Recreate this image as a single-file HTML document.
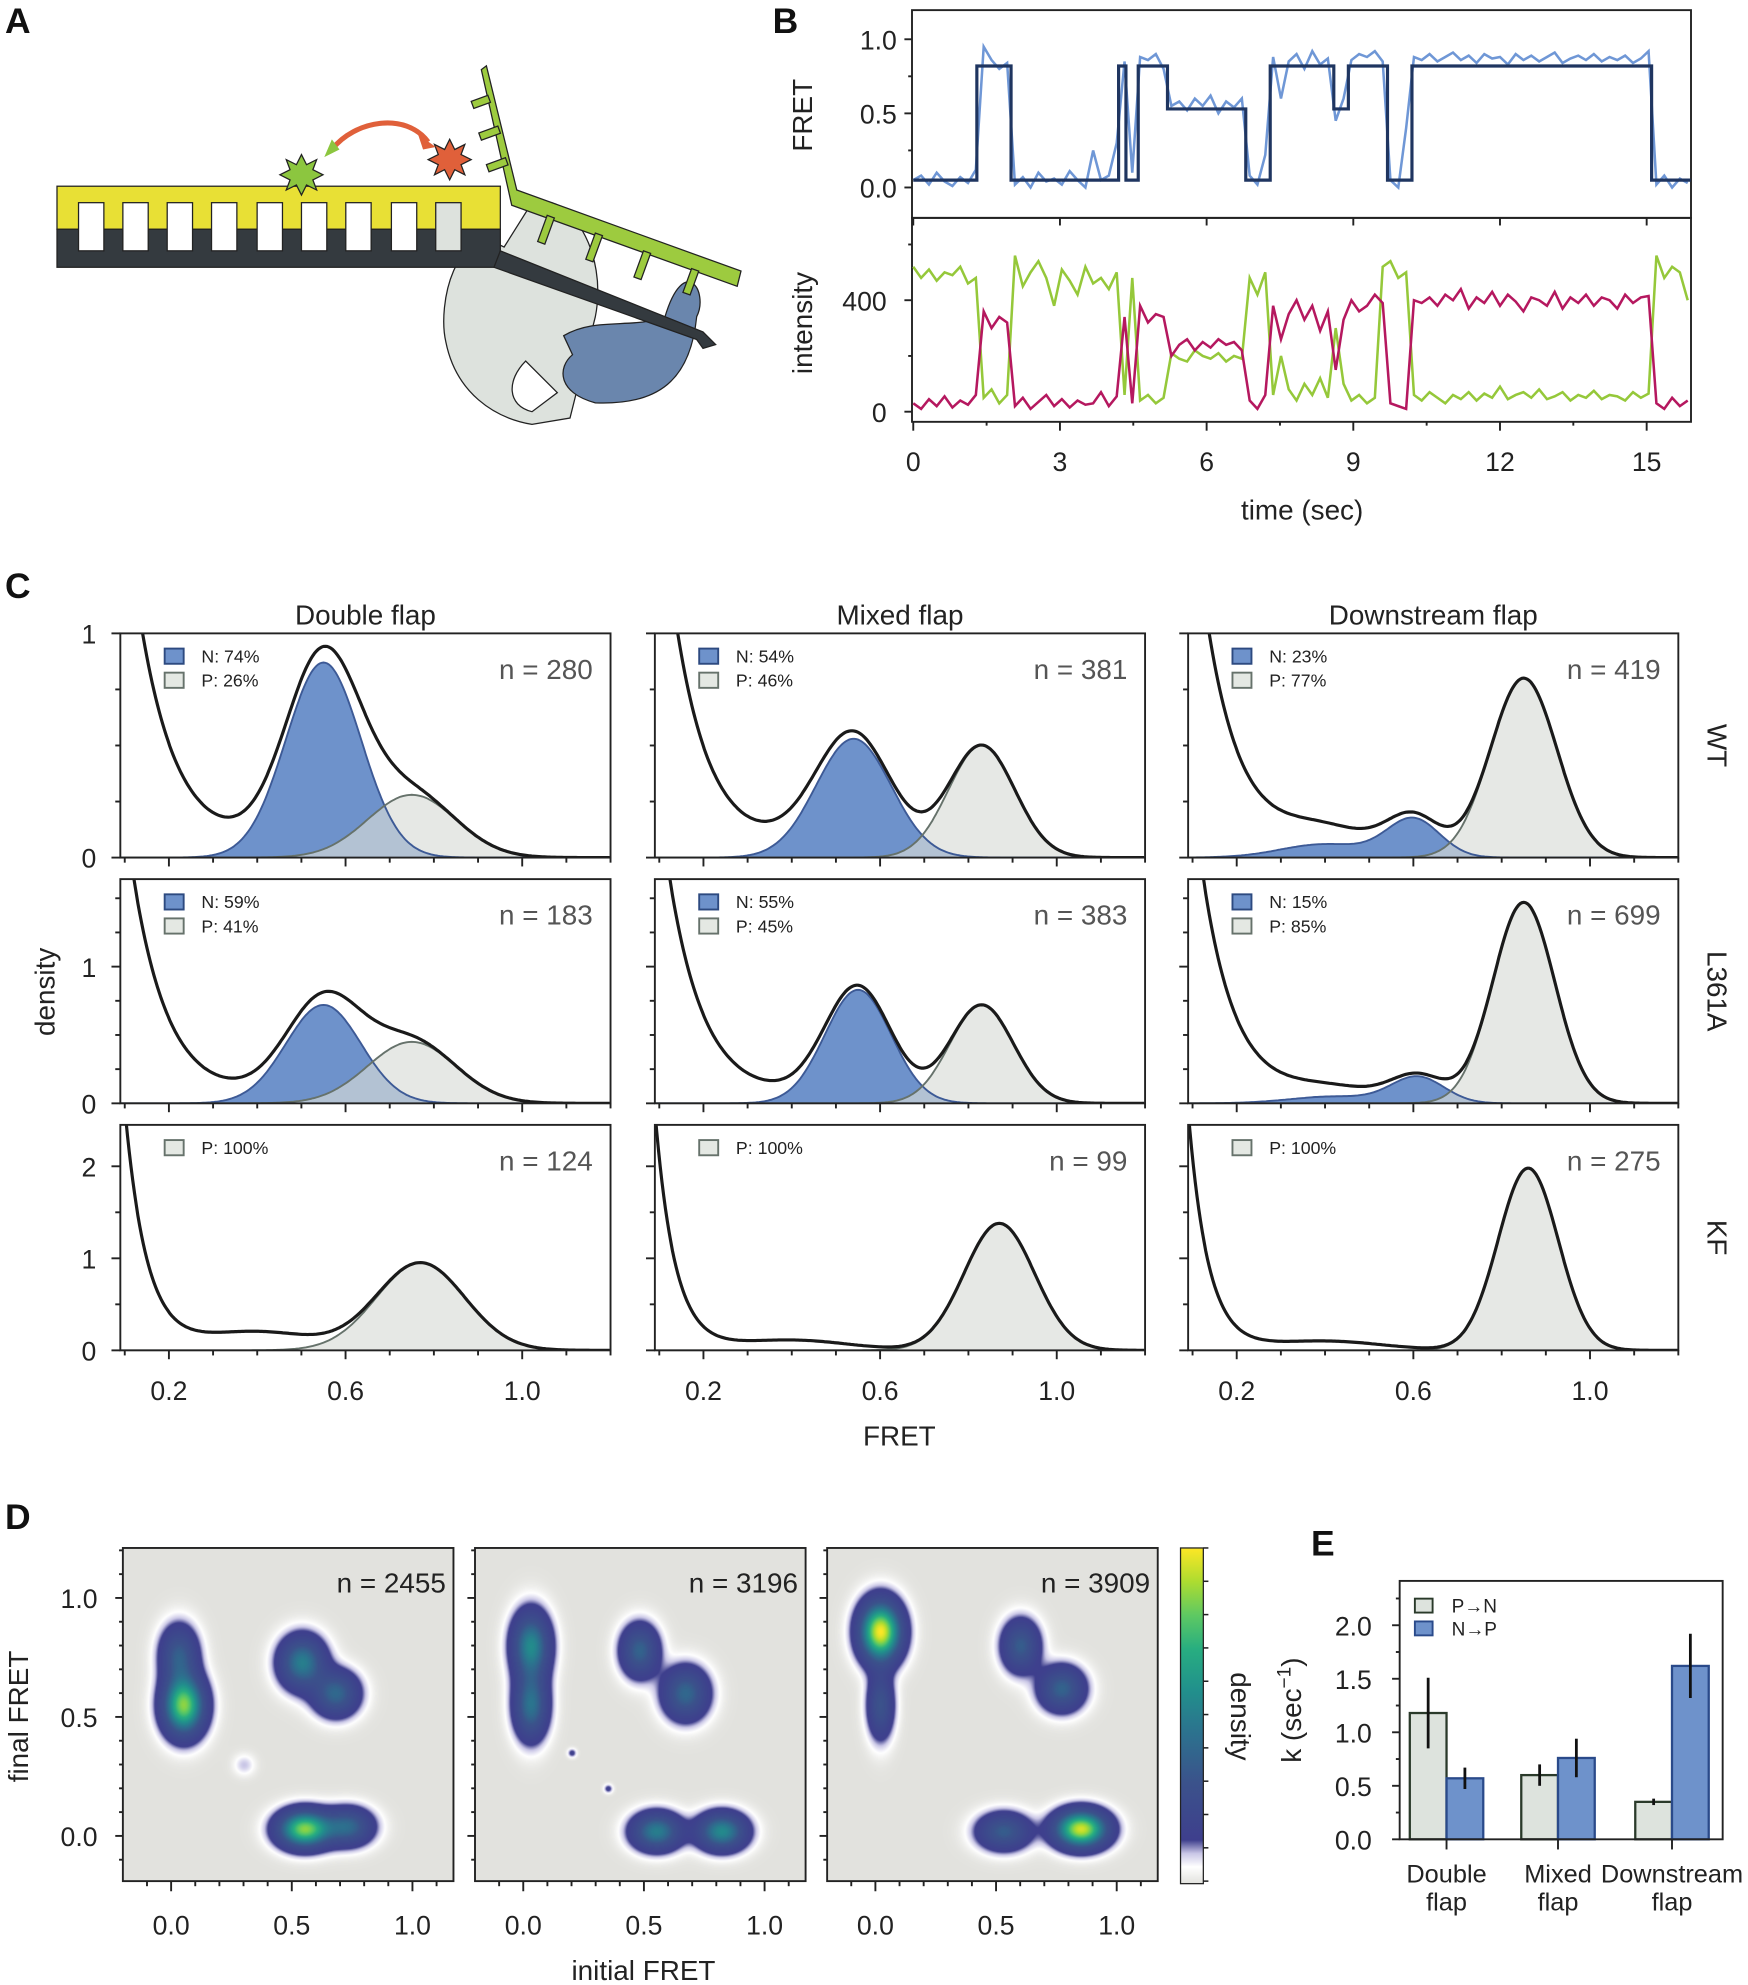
<!DOCTYPE html>
<html><head><meta charset="utf-8">
<style>
html,body{margin:0;padding:0;background:#fff;}
#wrap{position:relative;width:1748px;height:1985px;overflow:hidden;font-family:"Liberation Sans",sans-serif;}
#fig{position:absolute;left:0;top:0;}
canvas{position:absolute;}
text{font-family:"Liberation Sans",sans-serif;}
</style></head>
<body>
<div id="wrap">
<canvas id="hm0"></canvas>
<canvas id="hm1"></canvas>
<canvas id="hm2"></canvas>
<svg id="fig" width="1748" height="1985" viewBox="0 0 1380 1567" preserveAspectRatio="none">
<defs>
<linearGradient id="cbar" x1="0" y1="1" x2="0" y2="0">
<stop offset="0" stop-color="#e2e2de"/><stop offset="0.05" stop-color="#ffffff"/><stop offset="0.09" stop-color="#c9c6e6"/><stop offset="0.13" stop-color="#3e3f8d"/><stop offset="0.3" stop-color="#3b528b"/><stop offset="0.45" stop-color="#2c728e"/><stop offset="0.58" stop-color="#21918c"/><stop offset="0.7" stop-color="#28ae80"/><stop offset="0.8" stop-color="#5ec962"/><stop offset="0.9" stop-color="#addc30"/><stop offset="1" stop-color="#fde725"/>
</linearGradient>
</defs>
<g font-weight="bold" font-size="28" fill="#111">
<text x="4" y="26">A</text>
<text x="610" y="26">B</text>
<text x="4" y="472">C</text>
<text x="4" y="1207">D</text>
<text x="1035" y="1228">E</text>
</g>
<g id="cartoon" stroke="#222" stroke-width="1">
<path d="M398,195 C360,175 345,240 352,270 C360,310 390,330 420,335 L450,330 L470,250 C480,200 450,150 420,160 Z" fill="#dde2dd"/>
<path d="M415,285 C400,300 400,320 420,325 L440,310 Z" fill="#fff"/>
<path d="M445,265 C470,250 500,260 525,250 C540,200 560,230 550,250 C545,300 520,320 470,318 C440,310 440,290 452,280 Z" fill="#6a86ad"/>
<rect x="45" y="147" width="350" height="34" fill="#e8e035"/>
<rect x="45" y="181" width="350" height="30" fill="#343a3f"/>
<g fill="#fff">
<rect x="62" y="160" width="20" height="38"/><rect x="97" y="160" width="20" height="38"/><rect x="132" y="160" width="20" height="38"/><rect x="167" y="160" width="20" height="38"/><rect x="203" y="160" width="20" height="38"/><rect x="238" y="160" width="20" height="38"/><rect x="273" y="160" width="20" height="38"/><rect x="309" y="160" width="20" height="38"/><rect x="344" y="160" width="20" height="38" fill="#dde2dd"/>
</g>
<path d="M395,198 L555,262 L565,272 L555,275 L550,268 L390,211 Z" fill="#343a3f"/>
<path d="M380,55 L384,52 L408,150 L585,214 L582,226 L404,162 Z" fill="#9dcb3f"/>
<g fill="#9dcb3f"><rect x="372" y="80" width="14" height="6" transform="rotate(-20 372 80)"/><rect x="378" y="105" width="16" height="6" transform="rotate(-20 378 105)"/><rect x="384" y="130" width="16" height="6" transform="rotate(-20 384 130)"/><rect x="432" y="170" width="6" height="22" transform="rotate(20 432 170)"/><rect x="470" y="184" width="6" height="22" transform="rotate(20 470 184)"/><rect x="508" y="198" width="6" height="22" transform="rotate(20 508 198)"/><rect x="546" y="212" width="6" height="20" transform="rotate(20 546 212)"/></g>
<polygon points="238,122 242,130 250,126 247,134 255,138 247,142 250,150 242,146 238,154 234,146 226,150 229,142 221,138 229,134 226,126 234,130" fill="#8cc63f"/>
<polygon points="355,110 359,118 367,114 364,122 372,126 364,130 367,138 359,134 355,142 351,134 343,138 346,130 338,126 346,122 343,114 351,118" fill="#e0603a"/>
<path d="M262,118 C280,95 320,88 338,112" fill="none" stroke="#e0603a" stroke-width="4"/>
<polygon points="330,106 344,116 334,118" fill="#e0603a" stroke="none"/>
<polygon points="256,124 262,110 268,118" fill="#8cc63f" stroke="none"/>
</g>
<g id="gB"></g><g id="gC"></g><g id="gD"></g><g id="gE"></g>
</svg>
</div>
<script>
// ================= Panel B data =================
const traceDt = 0.16;
const fretRaw = [0.05,0.08,0.02,0.10,0.04,0.01,0.07,0.03,0.12,
0.95,0.86,0.80,0.84,
0.02,0.07,0.0,0.10,0.04,0.06,0.02,0.11,0.05,0.0,0.25,0.05,0.08,0.30,
0.85,0.10,
0.88,0.86,0.90,0.80,
0.55,0.58,0.52,0.60,0.55,0.62,0.50,0.58,0.54,0.60,
0.08,0.02,0.22,
0.88,0.60,0.85,0.90,0.80,0.92,0.83,0.87,
0.45,0.60,
0.86,0.90,0.88,0.92,0.85,
0.05,0.0,0.40,
0.88,0.86,0.90,0.85,0.88,0.91,0.86,0.89,0.84,0.90,0.87,0.88,0.83,0.90,0.86,0.89,0.85,0.88,0.91,0.84,0.87,0.89,0.86,0.90,0.85,0.88,0.86,0.89,0.84,0.87,0.92,
0.02,0.08,0.0,0.06,0.03];
const stepTimes = [0,1.3,2.0,4.2,4.35,4.6,5.2,6.8,7.3,8.6,8.9,9.7,10.2,15.1,15.9];
const stepLevels = [0.05,0.82,0.05,0.82,0.05,0.82,0.53,0.05,0.82,0.53,0.82,0.05,0.82,0.05];
const acceptorI = [30,10,45,20,55,15,40,25,60,
360,300,340,320,
20,50,10,35,60,20,45,15,40,25,30,70,20,55,
340,30,
380,320,350,340,
200,240,260,220,250,230,260,240,250,220,
40,10,60,
380,260,350,400,330,380,290,360,
150,330,
400,360,380,420,390,
30,20,10,
400,390,410,380,420,400,440,370,410,390,430,380,420,395,360,410,400,380,430,370,410,390,420,380,410,400,370,420,390,410,415,
30,10,50,20,40];
const donorI = [520,480,510,470,500,490,520,460,480,
50,80,30,60,
560,450,500,540,480,380,510,470,420,520,460,480,440,500,
60,480,
40,60,30,50,
210,190,180,220,200,190,210,180,200,190,
480,420,500,
60,200,80,40,100,60,120,50,
300,100,
40,60,30,50,520,
540,480,500,
60,40,70,50,30,60,45,70,40,65,50,90,45,60,70,50,80,45,55,70,40,60,50,75,45,60,55,40,70,50,65,
560,480,520,500,400];
const timeTicks = [0,3,6,9,12,15];
const fretTicks = [0.0,0.5,1.0];
const intTicks = [0,400];

// ================= Panel C data =================
const rowNames = ['WT','L361A','KF'];
const colNames = ['Double flap','Mixed flap','Downstream flap'];
const nCounts = [280,381,419,183,383,699,124,99,275];
const nPct = [74,54,23,59,55,15,null,null,null];
const pPct = [26,46,77,41,45,85,100,100,100];
const lowAmp = [1.8,1.9,1.8,2.4,2.5,2.6,3.2,2.6,2.6];
const lowTau = [0.085,0.08,0.08,0.08,0.08,0.075,0.05,0.045,0.045];
const floorAmp = [0.05,0.05,0.06,0.05,0.05,0.06,0.2,0.11,0.1];
const nAmp = [0.87,0.53,0.17,0.72,0.83,0.19,0,0,0];
const nMu = [0.55,0.54,0.6,0.55,0.55,0.61,0.5,0.5,0.5];
const nSig = [0.085,0.085,0.06,0.085,0.075,0.06,0.1,0.1,0.1];
const n2Amp = [0,0,0.06,0,0,0.05,0,0,0];
const n2Mu = [0.5,0.5,0.4,0.5,0.5,0.42,0.5,0.5,0.5];
const n2Sig = [0.1,0.1,0.1,0.1,0.1,0.1,0.1,0.1,0.1];
const pAmp = [0.28,0.5,0.8,0.45,0.72,1.47,0.95,1.38,1.98];
const pMu = [0.75,0.83,0.85,0.75,0.83,0.85,0.77,0.87,0.86];
const pSig = [0.1,0.075,0.075,0.1,0.072,0.07,0.1,0.08,0.068];
const rowYMax = [1,1.64,2.45];
const rowMajorTicks = [[0,1],[0,1],[0,1,2]];
const rowMinorStep = [0.25,0.25,0.5];
const fretTickLabels = [0.2,0.6,1.0];

// ================= Panel D data =================
const dCounts = [2455,3196,3909];
const blobX = [[0.03,0.05,0.54,0.68,0.55,0.73,0.3],[0.03,0.03,0.48,0.67,0.55,0.82,0.2,0.35],[0.02,0.02,0.6,0.77,0.53,0.85]];
const blobY = [[0.76,0.55,0.73,0.6,0.03,0.04,0.3],[0.8,0.55,0.78,0.6,0.02,0.02,0.35,0.2],[0.86,0.55,0.8,0.62,0.02,0.03]];
const blobW = [[0.35,0.85,0.5,0.4,0.85,0.4,0.05],[0.55,0.45,0.38,0.4,0.5,0.55,0.1,0.1],[1.0,0.3,0.35,0.38,0.35,0.95]];
const blobSx = [[0.05,0.055,0.06,0.06,0.07,0.065,0.03],[0.05,0.045,0.05,0.06,0.065,0.065,0.012,0.012],[0.055,0.035,0.05,0.06,0.07,0.07]];
const blobSy = [[0.08,0.08,0.07,0.06,0.05,0.05,0.03],[0.09,0.09,0.07,0.07,0.05,0.05,0.012,0.012],[0.08,0.09,0.07,0.06,0.05,0.05]];
const dTicks = [0.0,0.5,1.0];

// ================= Panel E data =================
const eGroups = ['Double|flap','Mixed|flap','Downstream|flap'];
const ratePN = [1.18,0.6,0.35];
const errPN = [0.33,0.1,0.03];
const rateNP = [0.57,0.76,1.62];
const errNP = [0.1,0.18,0.3];
const eTicks = [0.0,0.5,1.0,1.5,2.0];

const NS = 'http://www.w3.org/2000/svg';
function mk(tag, attrs, parent){
  const e = document.createElementNS(NS, tag);
  for (const k in attrs) e.setAttribute(k, attrs[k]);
  parent.appendChild(e);
  return e;
}
function txt(parent, x, y, s, size, anchor, extra){
  const t = mk('text', Object.assign({x:x, y:y, 'font-size':size, 'text-anchor':anchor||'start', fill:'#222'}, extra||{}), parent);
  t.textContent = s;
  return t;
}

// ================= Draw Panel B =================
(function(){
  const g = document.getElementById('gB');
  const X0 = 721, pxs = (1300-721)/15;
  const xT = t => X0 + t*pxs;
  const yF = v => 148 - v*117;
  const yI = v => 325 - v*0.22;
  let el;
  el = mk('rect',{x:720,y:8,width:615,height:164,fill:'none',stroke:'#222','stroke-width':1.5},g);
  
  
  el = mk('rect',{x:720,y:172,width:615,height:161,fill:'none',stroke:'#222','stroke-width':1.5},g);
  
  
  let d = fretRaw.map((v,i)=>(i?'L':'M')+xT(i*traceDt).toFixed(1)+','+yF(v).toFixed(1)).join('');
  el = mk('path',{d:d,fill:'none',stroke:'#6f97d6','stroke-width':2},g);
  
  
  d = '';
  stepLevels.forEach((v,i)=>{ d += (i?'L':'M')+xT(stepTimes[i]).toFixed(1)+','+yF(v).toFixed(1)+'L'+xT(stepTimes[i+1]).toFixed(1)+','+yF(v).toFixed(1); });
  el = mk('path',{d:d,fill:'none',stroke:'#1f3560','stroke-width':2.5},g);
  
  
  d = donorI.map((v,i)=>(i?'L':'M')+xT(i*traceDt).toFixed(1)+','+yI(v).toFixed(1)).join('');
  el = mk('path',{d:d,fill:'none',stroke:'#95c83a','stroke-width':2},g);
  
  
  d = acceptorI.map((v,i)=>(i?'L':'M')+xT(i*traceDt).toFixed(1)+','+yI(v).toFixed(1)).join('');
  el = mk('path',{d:d,fill:'none',stroke:'#b5185f','stroke-width':2},g);
  
  
  for (let v=-0.25; v<=1.25; v+=0.25){ const y=yF(v); if(y<8||y>172) continue; const maj = fretTicks.some(t=>Math.abs(t-v)<1e-6); mk('line',{x1:720,x2:720-(maj?6:3),y1:y,y2:y,stroke:'#222','stroke-width':1.5},g); }
  fretTicks.forEach(v=>{ el = txt(g,708,yF(v)+8,v.toFixed(1),21,'end');   });
  for (let v=0; v<=600; v+=200){ const y=yI(v); if(y<172) continue; const maj = intTicks.includes(v); mk('line',{x1:720,x2:720-(maj?6:3),y1:y,y2:y,stroke:'#222','stroke-width':1.5},g); }
  intTicks.forEach(v=>{ el = txt(g,700,yI(v)+8,String(v),21,'end');   });
  for (let t=0; t<=15.9; t+=1.5){ const maj = Math.abs(t/3-Math.round(t/3))<1e-6; mk('line',{x1:xT(t),x2:xT(t),y1:333,y2:333+(maj?7:3),stroke:'#222','stroke-width':1.5},g); if(maj) mk('line',{x1:xT(t),x2:xT(t),y1:172,y2:178,stroke:'#222','stroke-width':1.5},g); }
  timeTicks.forEach(t=>{ el = txt(g,xT(t),372,String(t),21,'middle');   });
  el = txt(g,1028,410,'time (sec)',22,'middle');
  
  
  el = txt(g,0,0,'FRET',22,'middle',{transform:'translate(641,91) rotate(-90)'});
  
  
  el = txt(g,0,0,'intensity',22,'middle',{transform:'translate(641,255) rotate(-90)'});
  
  
})();

// ================= Draw Panel C =================
(function(){
  const g = document.getElementById('gC');
  const colX0=[95,517,938], W=387, rowY0=[500,694,888], rowBot=[677,871,1066];
  const gauss=(x,a,m,s)=>a*Math.exp(-(x-m)*(x-m)/(2*s*s));
  let el;
  for (let r=0;r<3;r++) for (let c=0;c<3;c++){
    const p=r*3+c;
    const xs = v => colX0[c] + (v-0.09)/1.11*W;
    const ys = v => rowBot[r] - v/rowYMax[r]*(rowBot[r]-rowY0[r]);
    const pg = mk('g',{},g);
    
    
    const cid='clipC'+p;
    const cp = mk('clipPath',{id:cid},pg);
    mk('rect',{x:colX0[c],y:rowY0[r],width:W,height:rowBot[r]-rowY0[r]},cp);
    const inner = mk('g',{'clip-path':'url(#'+cid+')'},pg);
    const X=[]; for(let x=0.09;x<=1.2001;x+=0.004) X.push(x);
    const N = X.map(x=>gauss(x,nAmp[p],nMu[p],nSig[p])+gauss(x,n2Amp[p],n2Mu[p],n2Sig[p]));
    const P = X.map(x=>gauss(x,pAmp[p],pMu[p],pSig[p]));
    const T = X.map((x,i)=>lowAmp[p]*Math.exp(-(x-0.09)/lowTau[p])+gauss(x,floorAmp[p],0.4,0.13)+N[i]+P[i]);
    const area = arr => 'M'+xs(X[0])+','+ys(0)+arr.map((v,i)=>'L'+xs(X[i]).toFixed(1)+','+ys(v).toFixed(1)).join('')+'L'+xs(X[X.length-1])+','+ys(0)+'Z';
    const line = arr => arr.map((v,i)=>(i?'L':'M')+xs(X[i]).toFixed(1)+','+ys(v).toFixed(1)).join('');
    if (nAmp[p]>0){
      el = mk('path',{d:area(N),fill:'#6e92cb',stroke:'none'},inner);
      
      
    }
    el = mk('path',{d:area(P),fill:'#d8dcd7','fill-opacity':0.65,stroke:'none'},inner);
    
    
    if (nAmp[p]>0){
      el = mk('path',{d:line(N),fill:'none',stroke:'#3d5a96','stroke-width':1.5},inner);
      
      
    }
    el = mk('path',{d:line(P),fill:'none',stroke:'#66726b','stroke-width':1.5},inner);
    
    
    el = mk('path',{d:line(T),fill:'none',stroke:'#1a1a1a','stroke-width':2.5},inner);
    
    
    el = mk('rect',{x:colX0[c],y:rowY0[r],width:W,height:rowBot[r]-rowY0[r],fill:'none',stroke:'#222','stroke-width':1.5},pg);
    
    
    for (let v=0.1; v<=1.2001; v+=0.1){ const maj = fretTickLabels.some(t=>Math.abs(t-v)<1e-6); mk('line',{x1:xs(v),x2:xs(v),y1:rowBot[r],y2:rowBot[r]+(maj?7:4),stroke:'#222','stroke-width':1.5},pg); }
    for (let v=0; v<=rowYMax[r]; v+=rowMinorStep[r]){ const maj=rowMajorTicks[r].includes(v); mk('line',{x1:colX0[c],x2:colX0[c]-(maj?7:4),y1:ys(v),y2:ys(v),stroke:'#222','stroke-width':1.5},pg); }
    if (c===0) rowMajorTicks[r].forEach(v=>{ el = txt(pg,76,ys(v)+8,String(v),21,'end');   });
    if (r===2) fretTickLabels.forEach(v=>{ el = txt(pg,xs(v),1105,v.toFixed(1),21,'middle');   });
    let ly = rowY0[r]+22;
    if (nPct[p]!==null){
      el = mk('rect',{x:colX0[c]+35,y:ly-10,width:15,height:12,fill:'#6e92cb',stroke:'#2d4a80','stroke-width':1.5},pg);
      
      
      el = txt(pg,colX0[c]+64,ly+1,'N: '+nPct[p]+'%',14,'start');
      
      
      ly += 19;
    }
    el = mk('rect',{x:colX0[c]+35,y:ly-10,width:15,height:12,fill:'#e4e8e3',stroke:'#66726b','stroke-width':1.5},pg);
    
    
    el = txt(pg,colX0[c]+64,ly+1,'P: '+pPct[p]+'%',14,'start');
    
    
    el = txt(pg,colX0[c]+W-14,rowY0[r]+36,'n = '+nCounts[p],22,'end',{fill:'#555'});
    
    
  }
  colNames.forEach((s,c)=>{ el = txt(g,colX0[c]+W/2,493,s,22,'middle');   });
  rowNames.forEach((s,r)=>{ el = txt(g,0,0,s,22,'middle',{transform:'translate(1348,'+((rowY0[r]+rowBot[r])/2)+') rotate(90)'});   });
  el = txt(g,0,0,'density',22,'middle',{transform:'translate(43,783) rotate(-90)'});
  
  
  el = txt(g,710,1141,'FRET',22,'middle');
  
  
})();

// ================= Draw Panel D =================
const K = 1748/1380;
const cmapStops = [[0,[226,226,222]],[0.025,[255,255,255]],[0.05,[201,198,230]],[0.08,[62,63,141]],[0.3,[59,82,139]],[0.45,[44,114,142]],[0.58,[33,145,140]],[0.7,[40,174,128]],[0.8,[94,201,98]],[0.9,[173,220,48]],[1,[253,231,37]]];
function cmap(v){
  v=Math.max(0,Math.min(1,v));
  for(let i=1;i<cmapStops.length;i++){ if(v<=cmapStops[i][0]){ const a=cmapStops[i-1],b=cmapStops[i]; const t=(v-a[0])/(b[0]-a[0]); return a[1].map((c,j)=>c+(b[1][j]-c)*t); } }
  return cmapStops[cmapStops.length-1][1];
}
(function(){
  const g = document.getElementById('gD');
  const dX0=[97,375,653], W=261, Y0=1222, Y1=1485;
  const yD = v => Y1-(v+0.19)/1.4*(Y1-Y0);
  let el;
  for (let c=0;c<3;c++){
    const xD = v => dX0[c]+(v+0.2)/1.37*W;
    const cv = document.getElementById('hm'+c);
    const pw = Math.round(W*K), ph = Math.round((Y1-Y0)*K);
    cv.width=pw; cv.height=ph;
    cv.style.left=(dX0[c]*K)+'px'; cv.style.top=(Y0*K)+'px';
    cv.style.width=pw+'px'; cv.style.height=ph+'px';
    const ctx=cv.getContext('2d'); const img=ctx.createImageData(pw,ph);
    for(let j=0;j<ph;j++){ const fy=1.21-(j/ph)*1.4; for(let i=0;i<pw;i++){ const fx=-0.2+(i/pw)*1.37; let d=0;
      for(let b=0;b<blobX[c].length;b++){ const dx=(fx-blobX[c][b])/blobSx[c][b], dy=(fy-blobY[c][b])/blobSy[c][b]; d+=blobW[c][b]*Math.exp(-0.5*(dx*dx+dy*dy)); }
      const col=cmap(d); const o=(j*pw+i)*4; img.data[o]=col[0]; img.data[o+1]=col[1]; img.data[o+2]=col[2]; img.data[o+3]=255; } }
    ctx.putImageData(img,0,0);
    el = mk('rect',{x:dX0[c],y:Y0,width:W,height:Y1-Y0,fill:'none',stroke:'#222','stroke-width':1.5},g);
    
    
    for(let v=-0.1;v<=1.101;v+=0.1){ const maj=dTicks.some(t=>Math.abs(t-v)<1e-6); mk('line',{x1:xD(v),x2:xD(v),y1:Y1,y2:Y1+(maj?8:4),stroke:'#222','stroke-width':1.5},g); }
    for(let v=-0.1;v<=1.201;v+=0.1){ const maj=dTicks.some(t=>Math.abs(t-v)<1e-6); mk('line',{x1:dX0[c],x2:dX0[c]-(maj?6:3),y1:yD(v),y2:yD(v),stroke:'#222','stroke-width':1.5},g); }
    dTicks.forEach(v=>{ el = txt(g,xD(v),1527,v.toFixed(1),21,'middle');   });
    el = txt(g,dX0[c]+W-6,1257,'n = '+dCounts[c],22,'end');
    
    
  }
  dTicks.forEach(v=>{ el = txt(g,77,yD(v)+8,v.toFixed(1),21,'end');   });
  el = mk('rect',{x:932,y:Y0,width:18,height:Y1-Y0+2,fill:'url(#cbar)',stroke:'#222','stroke-width':1},g);
  
  
  for(let i=0;i<=10;i++){ mk('line',{x1:950,x2:954,y1:Y0+i*(Y1-Y0)/10,y2:Y0+i*(Y1-Y0)/10,stroke:'#222','stroke-width':1.2},g); }
  el = txt(g,0,0,'density',22,'middle',{transform:'translate(972,1355) rotate(90)'});
  
  
  el = txt(g,0,0,'final FRET',22,'middle',{transform:'translate(22,1355) rotate(-90)'});
  
  
  el = txt(g,508,1563,'initial FRET',22,'middle');
  
  
})();

// ================= Draw Panel E =================
(function(){
  const g = document.getElementById('gE');
  const X0=1105, X1=1360, Y0=1248, Y1=1452;
  const yE = v => Y1 - v*84.5;
  const centers=[1142,1230,1320], bw=29;
  let el;
  for(let i=0;i<3;i++){
    el = mk('rect',{x:centers[i]-bw,y:yE(ratePN[i]),width:bw,height:Y1-yE(ratePN[i]),fill:'#dde3dd',stroke:'#2a3a2a','stroke-width':1.8},g);
    
    
    el = mk('rect',{x:centers[i],y:yE(rateNP[i]),width:bw,height:Y1-yE(rateNP[i]),fill:'#6e92cb',stroke:'#2a4a8a','stroke-width':1.8},g);
    
    
    el = mk('line',{x1:centers[i]-bw/2,x2:centers[i]-bw/2,y1:yE(ratePN[i]-errPN[i]),y2:yE(ratePN[i]+errPN[i]),stroke:'#111','stroke-width':2.2},g);
    
    
    el = mk('line',{x1:centers[i]+bw/2,x2:centers[i]+bw/2,y1:yE(rateNP[i]-errNP[i]),y2:yE(rateNP[i]+errNP[i]),stroke:'#111','stroke-width':2.2},g);
    
    
    mk('line',{x1:centers[i],x2:centers[i],y1:Y1,y2:Y1+8,stroke:'#222','stroke-width':1.5},g);
    const parts = eGroups[i].split('|');
    el = txt(g,centers[i],1486,parts[0],20,'middle');
    
    
    el = txt(g,centers[i],1508,parts[1],20,'middle');
    
    
  }
  el = mk('rect',{x:X0,y:Y0,width:X1-X0,height:Y1-Y0,fill:'none',stroke:'#222','stroke-width':1.5},g);
  
  
  for(let v=0;v<=2.41;v+=0.25){ const maj=eTicks.some(t=>Math.abs(t-v)<1e-6); mk('line',{x1:X0,x2:X0-(maj?6:3),y1:yE(v),y2:yE(v),stroke:'#222','stroke-width':1.5},g); }
  eTicks.forEach(v=>{ el = txt(g,1083,yE(v)+8,v.toFixed(1),21,'end');   });
  el = mk('rect',{x:1117,y:1262,width:14,height:11,fill:'#dde3dd',stroke:'#2a3a2a','stroke-width':1.5},g);
  
  
  el = txt(g,1146,1273,'P\u2192N',15,'start');
  
  
  el = mk('rect',{x:1117,y:1280,width:14,height:11,fill:'#6e92cb',stroke:'#2a4a8a','stroke-width':1.5},g);
  
  
  el = txt(g,1146,1291,'N\u2192P',15,'start');
  
  
  const yl = txt(g,0,0,'k (sec',22,'middle',{transform:'translate(1027,1350) rotate(-90)'});
  
  
  const ts = mk('tspan',{dy:-8,'font-size':15},yl); ts.textContent='\u22121';
  const ts2 = mk('tspan',{dy:8},yl); ts2.textContent=')';
})();
</script>
</body></html>
